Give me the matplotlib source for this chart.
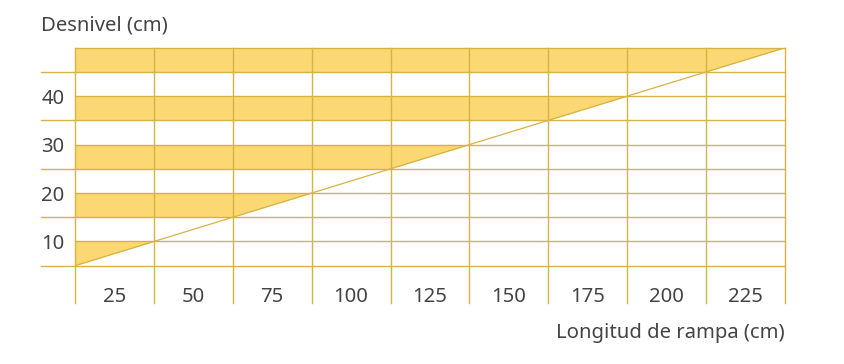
import numpy as np
import matplotlib
matplotlib.use("Agg")
import matplotlib.pyplot as plt

# column labels (ramp length, cm) and row labels (height, cm)
x_labels = [25, 50, 75, 100, 125, 150, 175, 200, 225]
y_labels = [10, 20, 30, 40]

# grid boundaries
x_edges = [12.5, 37.5, 62.5, 87.5, 112.5, 137.5, 162.5, 187.5, 212.5, 237.5]
y_edges = [5, 10, 15, 20, 25, 30, 35, 40, 45, 50]

# filled bands (lower, upper)
bands = [(5, 10), (15, 20), (25, 30), (35, 40), (45, 50)]

# diagonal slope line
ramp_x = [12.5, 237.5]
ramp_y = [5, 50]

fill_col = "#FCD874"
line_col = "#D6B345"
text_col = "#444444"

W, H = 845, 364
fig = plt.figure(figsize=(W / 100, H / 100), dpi=100)
plt.rcParams['font.family'] = ['Noto Sans', 'DejaVu Sans']

# axes box in pixels: left 75, right 785, top 47.7, bottom 265.7
x0, x1, yt, yb = 75, 785, 47.7, 265.7
ax = fig.add_axes([x0 / W, 1 - yb / H, (x1 - x0) / W, (yb - yt) / H])
ax.set_xlim(x_edges[0], x_edges[-1])
ax.set_ylim(y_edges[0], y_edges[-1])
for s in ax.spines.values():
    s.set_visible(False)

xs = np.array(x_edges)
line_y = np.interp(xs, ramp_x, ramp_y)
for lo, hi in bands:
    ax.fill_between(xs, np.clip(line_y, lo, hi), hi, color=fill_col, lw=0, zorder=1)

# grid
y_bottom = -2.6   # vertical lines run down past the axis
x_left = 1.8      # tick marks to the left
for xv in x_edges:
    ax.plot([xv, xv], [y_bottom, y_edges[-1]], color=line_col, lw=1.0, clip_on=False, zorder=2)
for yv in y_edges:
    if yv in y_labels or yv == y_edges[-1]:
        ax.plot([x_edges[0], x_edges[-1]], [yv, yv], color=line_col, lw=1.0, clip_on=False, zorder=2)
    else:
        ax.plot([x_left, x_edges[-1]], [yv, yv], color=line_col, lw=1.0, clip_on=False, zorder=2)

ax.plot(ramp_x, ramp_y, color=line_col, lw=0.9, zorder=3)

fs = 14.6
ax.set_xticks(x_labels)
ax.set_xticklabels([str(v) for v in x_labels])
ax.set_yticks(y_labels)
ax.set_yticklabels([str(v) for v in y_labels])
ax.tick_params(axis="x", length=0, pad=15, labelsize=fs, labelcolor=text_col)
ax.tick_params(axis="y", length=0, pad=7.5, labelsize=fs, labelcolor=text_col)

fig.text(41 / W, 1 - 25 / H, "Desnivel (cm)", ha="left", va="center",
         fontsize=fs, color=text_col)
fig.text(785 / W, 1 - 333 / H, "Longitud de rampa (cm)", ha="right", va="center",
         fontsize=fs, color=text_col)

fig.savefig("out.png", dpi=100)
